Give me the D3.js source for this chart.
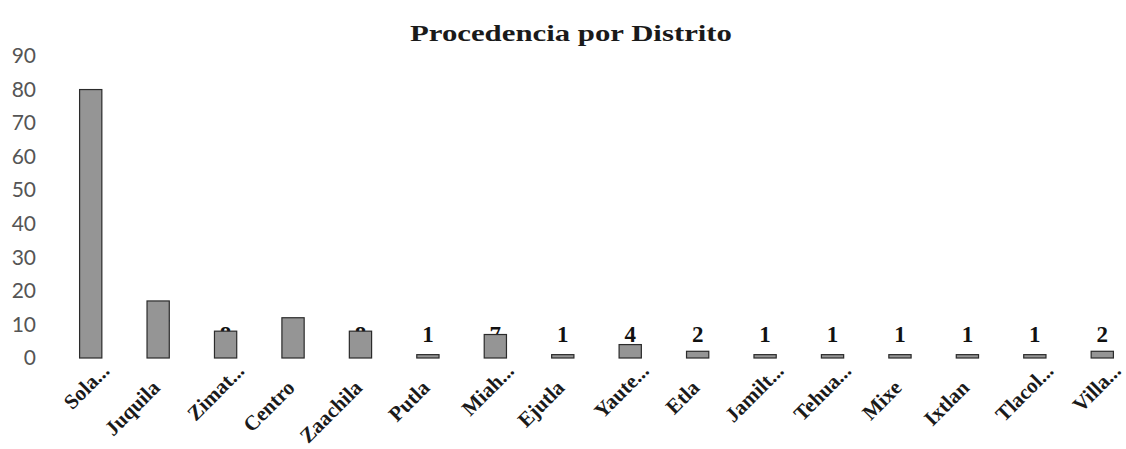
<!DOCTYPE html>
<html>
<head>
<meta charset="utf-8">
<script src="https://cdn.jsdelivr.net/npm/d3@7"></script>
<style>
  body { margin: 0; background: #fff; }
</style>
</head>
<body>
<script>
// categories (districts) and counts
var districts = ['Sola...', 'Juquila', 'Zimat...', 'Centro', 'Zaachila', 'Putla', 'Miah...', 'Ejutla',
                 'Yaute...', 'Etla', 'Jamilt...', 'Tehua...', 'Mixe', 'Ixtlan', 'Tlacol...', 'Villa...'];
var counts = [80, 17, 8, 12, 8, 1, 7, 1, 4, 2, 1, 1, 1, 1, 1, 2];
var yTicks = [0, 10, 20, 30, 40, 50, 60, 70, 80, 90];

var width = 1126, height = 449;

var svg = d3.select('body').append('svg')
            .attr('width', width)
            .attr('height', height);

var x = d3.scaleBand()
          .domain(districts)
          .range([57, 1136])
          .paddingInner(0.67)
          .paddingOuter(0.335);

var y = d3.scaleLinear()
          .domain([0, 90])
          .range([358, 56]);

// title
svg.append('text')
   .attr('x', 571)
   .attr('y', 41)
   .attr('text-anchor', 'middle')
   .attr('textLength', 322)
   .attr('lengthAdjust', 'spacingAndGlyphs')
   .style('font-family', 'Liberation Serif')
   .style('font-weight', 'bold')
   .style('font-size', '23px')
   .style('fill', '#1a1a1a')
   .text('Procedencia por Distrito');

// y axis (labels only, no line)
var yAxis = svg.append('g')
               .attr('transform', 'translate(36,0)')
               .call(d3.axisLeft(y).tickValues(yTicks).tickSize(0).tickPadding(0));
yAxis.select('.domain').remove();
yAxis.selectAll('text')
     .style('font-family', 'Lato')
     .style('font-size', '21px')
     .style('fill', '#555');

// data labels sit behind the bars (big ones are mostly hidden)
svg.selectAll('.lbl')
   .data(counts)
   .enter().append('text')
   .attr('class', 'lbl')
   .attr('x', function(d, i){ return x(districts[i]) + x.bandwidth() / 2; })
   .attr('y', function(d){ return d > 8 ? y(d) + 34 : y(4.8); })
   .attr('text-anchor', 'middle')
   .style('font-family', 'Liberation Serif')
   .style('font-weight', 'bold')
   .style('font-size', '23px')
   .style('fill', '#111')
   .text(function(d){ return d; });

// bars
svg.selectAll('.bar')
   .data(counts)
   .enter().append('rect')
   .attr('class', 'bar')
   .attr('x', function(d, i){ return x(districts[i]); })
   .attr('y', function(d){ return y(d); })
   .attr('width', x.bandwidth())
   .attr('height', function(d){ return y(0) - y(d); })
   .style('fill', '#959595')
   .style('stroke', '#2b2b2b')
   .style('stroke-width', 1.2);

// x axis labels, rotated; truncated names sit a little further up the slope
var xAxis = svg.append('g')
               .attr('transform', 'translate(0,' + y(0) + ')')
               .call(d3.axisBottom(x).tickSize(0));
xAxis.select('.domain').remove();
xAxis.selectAll('text')
     .attr('text-anchor', 'end')
     .attr('transform', 'translate(3,31) rotate(-45)')
     .attr('dy', 0)
     .attr('y', 0)
     .attr('x', function(d){ return d.slice(-3) === '...' ? 24 : 0; })
     .style('font-family', 'Liberation Serif')
     .style('font-weight', 'bold')
     .style('font-size', '21px')
     .style('fill', '#1a1a1a');
</script>
</body>
</html>
